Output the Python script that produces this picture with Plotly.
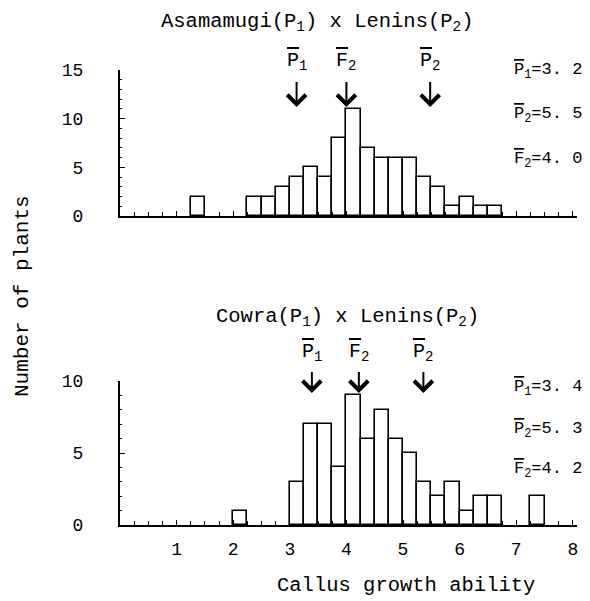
import plotly.graph_objects as go

# ---------------- data ----------------
bin_width = 0.25
top_bin_left = [1.25, 2.25, 2.5, 2.75, 3.0, 3.25, 3.5, 3.75, 4.0, 4.25, 4.5, 4.75, 5.0, 5.25, 5.5, 5.75, 6.0, 6.25, 6.5]
top_counts   = [2,    2,    2,   3,    4,   5,    4,   8,    11,  7,    6,   6,    6,   4,    3,   1,    2,   1,    1]
bot_bin_left = [2.0, 3.0, 3.25, 3.5, 3.75, 4.0, 4.25, 4.5, 4.75, 5.0, 5.25, 5.5, 5.75, 6.0, 6.25, 6.5, 7.25]
bot_counts   = [1,   3,   7,    7,   4,    9,   6,    8,   6,    5,   3,    2,   3,    1,   2,    2,   2]

top_means = {"P1": "3. 2", "P2": "5. 5", "F2": "4. 0"}
bot_means = {"P1": "3. 4", "P2": "5. 3", "F2": "4. 2"}
top_arrow_x = [3.12, 4.0, 5.48]     # drawn arrow positions (P1, F2, P2)
bot_arrow_x = [3.39, 4.22, 5.36]
top_title = "Asamamugi(P<sub>1</sub>) x Lenins(P<sub>2</sub>)"
bot_title = "Cowra(P<sub>1</sub>) x Lenins(P<sub>2</sub>)"
x_ticks = [1, 2, 3, 4, 5, 6, 7, 8]
top_y_ticks = [0, 5, 10, 15]
bot_y_ticks = [0, 5, 10]

FONT = "Liberation Mono"
OFF = 8                     # page body margin
W, H = 590 - OFF, 601 - OFF

def py(p):  # page pixel y -> paper
    return 1 - (p - OFF) / H

def px(p):
    return (p - OFF) / W

def ov(letter, sub):
    return '<span style="text-decoration:overline">%s</span><sub>%s</sub>' % (letter, sub)

fig = go.Figure()
fig.add_trace(go.Bar(x=[l + bin_width / 2 for l in top_bin_left], y=top_counts, width=bin_width,
                     marker=dict(color="white", line=dict(color="black", width=1.6)),
                     xaxis="x", yaxis="y", showlegend=False))
fig.add_trace(go.Bar(x=[l + bin_width / 2 for l in bot_bin_left], y=bot_counts, width=bin_width,
                     marker=dict(color="white", line=dict(color="black", width=1.6)),
                     xaxis="x2", yaxis="y2", showlegend=False))

xdom = [px(120), px(120 + 8.08 * 56.6)]
common_x = dict(range=[0, 8.08], domain=xdom, showline=True, linecolor="black", linewidth=2,
                ticks="inside", ticklen=5, tickwidth=1.2, tickcolor="black", showgrid=False,
                zeroline=False, tickvals=x_ticks, automargin=False,
                minor=dict(dtick=0.25, tick0=0, ticks="inside", ticklen=4, tickcolor="black", tickwidth=1.2))
ycommon = dict(showline=True, linecolor="black", linewidth=2, ticks="inside", ticklen=5, tickcolor="black",
               showgrid=False, zeroline=False, ticklabelstandoff=31, tickfont=dict(size=18, family=FONT),
               automargin=False, minor=dict(dtick=1, ticks="inside", ticklen=2, tickcolor="black"))
fig.update_layout(
    width=W, height=H, margin=dict(l=0, r=0, t=0, b=0, pad=0, autoexpand=False),
    paper_bgcolor="white", plot_bgcolor="white", bargap=0, showlegend=False,
    font=dict(family=FONT, color="black", size=18),
    xaxis=dict(**common_x, anchor="y", showticklabels=False),
    xaxis2=dict(**common_x, anchor="y2", showticklabels=True, ticklabelstandoff=6,
                tickfont=dict(size=18, family=FONT)),
    yaxis=dict(range=[0, 15], domain=[py(216), py(70)], anchor="x", tickvals=top_y_ticks, **ycommon),
    yaxis2=dict(range=[0, 10], domain=[py(525), py(381)], anchor="x2", tickvals=bot_y_ticks, **ycommon),
)

ann = []
def txt(text, x, y, size, **kw):
    d = dict(text=text, x=px(x), y=py(y), xref="paper", yref="paper", showarrow=False,
             xanchor="center", yanchor="middle", font=dict(size=size))
    d.update(kw)
    ann.append(d)

txt(top_title, 317, 22, 20.5)
txt(bot_title, 347, 317, 20.5)
txt("Callus growth ability", 406, 585, 20.5)
txt("Number of plants", 23, 296, 21, textangle=-90)

labels = [("P", "1"), ("F", "2"), ("P", "2")]
for xs, xa, ya, tip, ay, sst in [(top_arrow_x, "x", "y", 11.2, -45, 6), (bot_arrow_x, "x2", "y2", 9.17, -40, 5)]:
    for xv, (l, s) in zip(xs, labels):
        ann.append(dict(text=ov(l, s), x=xv, y=tip, xref=xa, yref=ya, ax=0, ay=ay, showarrow=True,
                        xanchor="center", yanchor="middle", startstandoff=sst,
                        arrowhead=4, arrowsize=1.8, arrowwidth=2, arrowcolor="black",
                        font=dict(size=20)))

for means, rows in [(top_means, [71, 115, 160]), (bot_means, [388, 430, 470])]:
    for key, r in zip(["P1", "P2", "F2"], rows):
        txt(ov(key[0], key[1]) + "=" + means[key], 584, r, 17, xanchor="right")

fig.update_layout(annotations=ann)
fig.write_html("out.html")
